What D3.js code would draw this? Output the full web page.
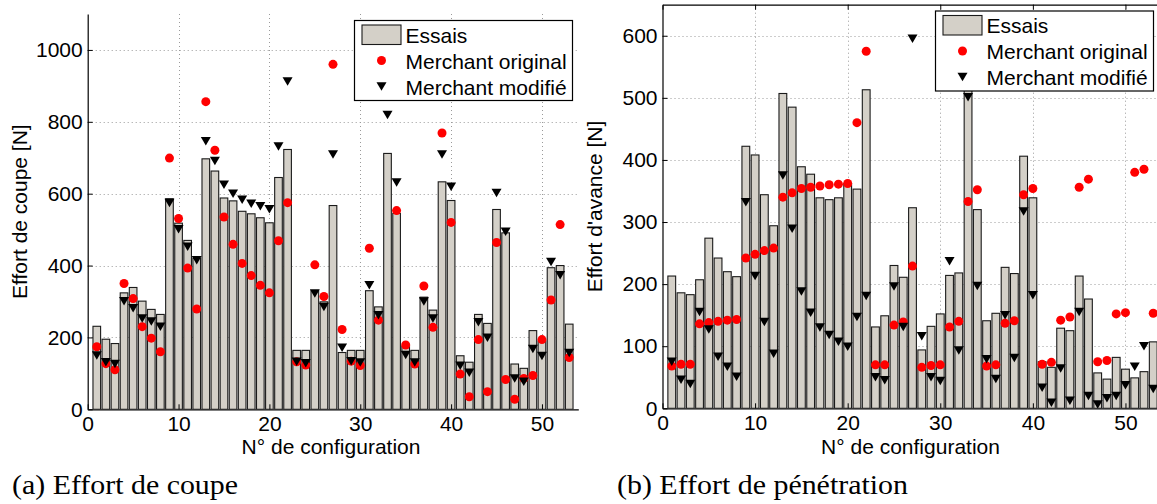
<!DOCTYPE html>
<html>
<head>
<meta charset="utf-8">
<script src="https://cdn.jsdelivr.net/npm/d3@7"></script>
<style>
  html, body { margin: 0; padding: 0; background: #fff; }
  svg { display: block; }
</style>
</head>
<body>
<svg id="chart" width="1157" height="504" font-family="Liberation Sans, Arial, Helvetica, sans-serif"></svg>
<script>
// Configuration numbers 1..53
const configs = d3.range(1, 54);

// (a) Cutting force [N]
const coupeEssais = [231, 195, 183, 324, 339, 301, 278, 264, 586, 518, 470, 420, 697, 663, 588, 580, 551, 544, 533, 519,
  645, 723, 164, 164, 330, 299, 567, 158, 164, 164, 330, 285, 712, 545, 176, 164, 312, 276, 633, 581,
  149, 131, 264, 239, 556, 491, 126, 114, 219, 190, 394, 400, 237];
const coupeOriginal = [174, 127, 110, 350, 308, 230, 198, 160, 699, 531, 393, 279, 856, 721, 535, 459, 406, 372, 345, 324,
  469, 575, 132, 123, 402, 314, 960, 222, 134, 122, 448, 248, null, 553, 179, 126, 343, 228, 769, 520,
  98, 35, 194, 49, 464, 83, 28, 86, 94, 194, 304, 514, 144];
const coupeModifie = [150, 131, 126, 301, 281, 253, 244, 230, 574, 501, 452, 415, 746, 691, 625, 600, 583, 572, 565, 557,
  731, 912, 132, 128, 322, 285, 709, 171, 134, 130, 345, 262, 819, 631, 151, 130, 300, 253, 709, 619,
  121, 102, 242, 199, 602, 494, 86, 77, 168, 148, 410, 373, 157];

// (b) Feed force [N]
const avanceEssais = [213, 186, 183, 207, 274, 242, 220, 212, 422, 408, 344, 294, 507, 485, 389, 377, 339, 336, 339, 362,
  353, 513, 131, 149, 230, 211, 323, 94, 132, 152, 214, 218, 540, 320, 141, 153, 227, 217, 406, 339,
  75, 66, 129, 125, 213, 176, 57, 47, 82, 63, 49, 59, 107];
const avanceOriginal = [68, 71, 71, 136, 138, 140, 142, 143, 242, 248, 254, 258, 340, 347, 354, 356, 358, 360, 361, 362,
  460, 575, 70, 70, 134, 139, 229, 66, 69, 70, 131, 140, 333, 352, 68, 70, 137, 141, 344, 354,
  71, 74, 142, 147, 356, 369, 75, 77, 152, 154, 380, 385, 153];
const avanceModifie = [75, 46, 39, 155, 127, 83, 67, 51, 332, 213, 139, 88, 375, 289, 188, 154, 130, 118, 107, 99,
  147, 181, 50, 45, 196, 131, 595, 116, 50, 44, 237, 93, 501, 197, 79, 47, 150, 81, 317, 182,
  33, 9, 64, 12, 155, 20, 6, 16, 20, 37, 67, 100, 31];

const xTicks = [0, 10, 20, 30, 40, 50];
const coupeTicks = [0, 200, 400, 600, 800, 1000];
const avanceTicks = [0, 100, 200, 300, 400, 500, 600];
const legendLabels = ["Essais", "Merchant original", "Merchant modifié"];

const BAR_FILL = "#d4d0c8";
const DOT_RED = "#ff0000";
const SANS = "Liberation Sans, Arial, Helvetica, sans-serif";
const SERIF = "Liberation Serif, Times New Roman, serif";
const FS = 21;

const svg = d3.select("#chart");

function drawPanel(opts) {
  const { id, left, right, top, bottom, yMax, yTicks, essais, original, modifie,
          yTitle, boxed, legendX, legendY, caption, captionX, captionWidth } = opts;

  const x = d3.scaleLinear().domain([0, 54]).range([left, right]);
  const y = d3.scaleLinear().domain([0, yMax]).range([bottom, top]);
  const g = svg.append("g");

  g.append("clipPath").attr("id", "clip-" + id)
    .append("rect").attr("x", left).attr("y", top)
    .attr("width", right - left).attr("height", bottom - top);

  // dotted grid
  const grid = g.append("g").attr("stroke", "#9a9a9a").attr("stroke-width", 1)
    .attr("stroke-dasharray", "1,3");
  grid.selectAll("line.h").data(yTicks.filter(d => d > 0)).join("line")
    .attr("x1", left).attr("x2", right)
    .attr("y1", d => Math.round(y(d)) + 0.5).attr("y2", d => Math.round(y(d)) + 0.5);
  grid.selectAll("line.v").data(xTicks.filter(d => d > 0)).join("line")
    .attr("y1", top).attr("y2", bottom)
    .attr("x1", d => Math.round(x(d)) + 0.5).attr("x2", d => Math.round(x(d)) + 0.5);

  const plot = g.append("g").attr("clip-path", "url(#clip-" + id + ")");
  const step = x(1) - x(0);
  const bw = step * 0.84;

  // measured forces (bars)
  plot.append("g").selectAll("rect").data(configs).join("rect")
    .attr("x", d => x(d) - bw / 2)
    .attr("y", (d, i) => y(essais[i]))
    .attr("width", bw)
    .attr("height", (d, i) => y(0) - y(essais[i]))
    .attr("fill", BAR_FILL)
    .attr("stroke", "#1a1a1a").attr("stroke-width", 1.1);

  // original Merchant model
  plot.append("g").selectAll("circle")
    .data(configs.filter((d, i) => original[i] != null)).join("circle")
    .attr("cx", d => x(d)).attr("cy", d => y(original[d - 1]))
    .attr("r", 4.5).attr("fill", DOT_RED);

  // modified Merchant model
  plot.append("g").selectAll("path").data(configs).join("path")
    .attr("d", "M-5,-4.25L5,-4.25L0,4.25Z")
    .attr("transform", (d, i) => `translate(${x(d)},${y(modifie[i])})`)
    .attr("fill", "#000");

  // axes
  const fmt = d3.format("d");
  const yAxis = d3.axisLeft(y).tickValues(yTicks).tickFormat(fmt)
    .tickSizeInner(-5).tickSizeOuter(0).tickPadding(5);
  const xAxis = d3.axisBottom(x).tickValues(xTicks).tickFormat(fmt)
    .tickSizeInner(-5).tickSizeOuter(0).tickPadding(7);
  const ya = g.append("g").attr("transform", `translate(${left},0)`).call(yAxis);
  const xa = g.append("g").attr("transform", `translate(0,${bottom})`).call(xAxis);
  [ya, xa].forEach(a => {
    a.attr("font-size", FS).attr("font-family", SANS);
    a.selectAll("text").attr("fill", "#000");
    a.selectAll("line").attr("stroke", "#000");
    a.select(".domain").attr("stroke", "#000").attr("stroke-width", 1.2);
  });
  xa.selectAll("text").attr("dy", "0.71em");

  if (boxed) {
    const xt = d3.axisTop(x).tickValues(xTicks).tickSizeInner(-5).tickSizeOuter(0).tickFormat("");
    const ta = g.append("g").attr("transform", `translate(0,${top})`).call(xt);
    ta.selectAll("line").attr("stroke", "#000");
    ta.select(".domain").attr("stroke", "#000").attr("stroke-width", 1.2);
    const yr = d3.axisRight(y).tickValues(yTicks).tickSizeInner(-5).tickSizeOuter(0).tickFormat("");
    const ra = g.append("g").attr("transform", `translate(${right},0)`).call(yr);
    ra.selectAll("line").attr("stroke", "#000");
    ra.select(".domain").attr("stroke", "#000").attr("stroke-width", 1.2);
  }

  // axis titles
  g.append("text").attr("x", (left + right) / 2 - 2).attr("y", 454)
    .attr("text-anchor", "middle").attr("font-size", FS).text("N° de configuration");
  g.append("text")
    .attr("transform", `translate(${left - 61},${(top + bottom) / 2}) rotate(-90)`)
    .attr("text-anchor", "middle").attr("font-size", FS).text(yTitle);

  // legend
  const lg = g.append("g").attr("transform", `translate(${legendX},${legendY})`);
  lg.append("rect").attr("x", 0.5).attr("y", 0.5).attr("width", 218).attr("height", 80)
    .attr("fill", "#fff").attr("stroke", "#000").attr("stroke-width", 1.2);
  lg.append("rect").attr("x", 8).attr("y", 5).attr("width", 39).attr("height", 19.5)
    .attr("fill", BAR_FILL).attr("stroke", "#1a1a1a").attr("stroke-width", 1.1);
  lg.append("circle").attr("cx", 27.5).attr("cy", 40.5).attr("r", 4.5).attr("fill", DOT_RED);
  lg.append("path").attr("d", "M-5,-4.25L5,-4.25L0,4.25Z")
    .attr("transform", "translate(27.5,66.5)").attr("fill", "#000");
  lg.selectAll("text.lab").data(legendLabels).join("text")
    .attr("x", 51.5).attr("y", (d, i) => 22.5 + i * 26)
    .attr("font-size", FS).text(d => d);

  // sub-figure caption
  svg.append("text").attr("x", captionX).attr("y", 494)
    .attr("font-family", SERIF)
    .attr("font-size", 27)
    .attr("textLength", captionWidth).attr("lengthAdjust", "spacingAndGlyphs")
    .text(caption);
}

drawPanel({
  id: "a", left: 87.7, right: 578.3, top: 14, bottom: 409.3, yMax: 1100, yTicks: coupeTicks,
  essais: coupeEssais, original: coupeOriginal, modifie: coupeModifie,
  yTitle: "Effort de coupe [N]", boxed: false, legendX: 354, legendY: 20,
  caption: "(a) Effort de coupe", captionX: 12, captionWidth: 226
});

drawPanel({
  id: "b", left: 662.5, right: 1162.5, top: 4.7, bottom: 408.3, yMax: 650, yTicks: avanceTicks,
  essais: avanceEssais, original: avanceOriginal, modifie: avanceModifie,
  yTitle: "Effort d'avance [N]", boxed: true, legendX: 935, legendY: 10.5,
  caption: "(b) Effort de pénétration", captionX: 617, captionWidth: 291
});
</script>
</body>
</html>
